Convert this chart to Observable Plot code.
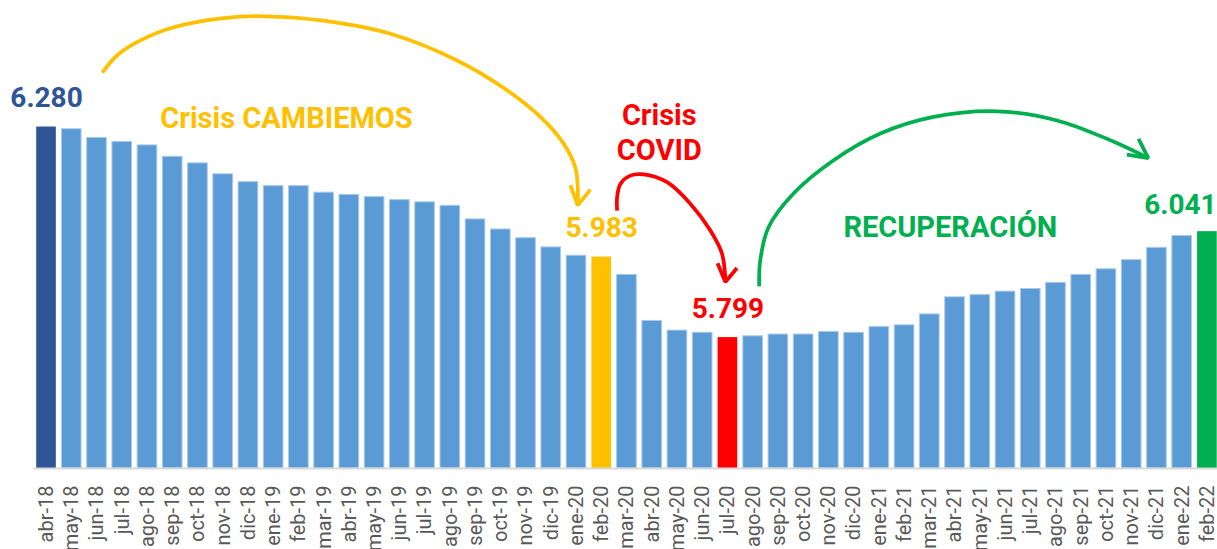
<!DOCTYPE html>
<html>
<head>
<meta charset="utf-8">
<script src="https://cdn.jsdelivr.net/npm/d3@7"></script>
<script src="https://cdn.jsdelivr.net/npm/@observablehq/plot@0.6"></script>
<style>
  html, body { margin: 0; padding: 0; background: #ffffff; }
  #chart svg { display: block; }
</style>
</head>
<body>
<div id="chart"></div>
<script>
// Categories (months)
const months = [
  "abr-18","may-18","jun-18","jul-18","ago-18","sep-18","oct-18","nov-18","dic-18",
  "ene-19","feb-19","mar-19","abr-19","may-19","jun-19","jul-19","ago-19","sep-19","oct-19","nov-19","dic-19",
  "ene-20","feb-20","mar-20","abr-20","may-20","jun-20","jul-20","ago-20","sep-20","oct-20","nov-20","dic-20",
  "ene-21","feb-21","mar-21","abr-21","may-21","jun-21","jul-21","ago-21","sep-21","oct-21","nov-21","dic-21",
  "ene-22","feb-22"
];
// Series values (thousands)
const values = [
  6280, 6275, 6255, 6246, 6238, 6212, 6197, 6172, 6154,
  6145, 6145, 6130, 6125, 6120, 6113, 6108, 6100, 6069, 6046, 6026, 6005,
  5986, 5983, 5942, 5837, 5815, 5810, 5799, 5802, 5806, 5806, 5812, 5810,
  5823, 5827, 5852, 5891, 5896, 5904, 5910, 5924, 5942, 5955, 5976, 6004,
  6031, 6041
];
// Months carrying a value label
const labelledMonths = ["abr-18", "feb-20", "jul-20", "feb-22"];

// Annotation texts, anchored in data units [month index, value]
const notes = [
  {text: "Crisis CAMBIEMOS", i: 9.51, v: 6277, color: "#ffc000"},
  {text: "Crisis\nCOVID", i: 24.28, v: 6204, color: "#ff0000"},
  {text: "RECUPERACIÓN", i: 35.81, v: 6028, color: "#00b050"}
];

// Annotation arrow paths in data units [month index, value]
const arcCambiemos = [
  [2.21, 6404], [2.80, 6444], [3.72, 6478], [5.04, 6508], [7.02, 6529], [8.61, 6533],
  [10.98, 6523], [13.63, 6493], [16.27, 6432], [18.25, 6364], [19.57, 6303],
  [20.49, 6242], [20.95, 6188], [21.05, 6143], [21.05, 6101]
];
const headCambiemos = [[20.76, 6147], [21.05, 6101], [21.55, 6137]];

const arcCovid = [
  [22.61, 6089], [22.61, 6120], [22.74, 6150], [23.13, 6169], [23.66, 6172],
  [24.59, 6154], [25.51, 6105], [26.30, 6044], [26.77, 5990], [26.90, 5926]
];
const headCovid = [[26.59, 5969], [26.90, 5926], [27.36, 5958]];

const arcRecuperacion = [
  [28.24, 5916], [28.28, 5975], [28.61, 6051], [29.60, 6128], [31.19, 6204],
  [33.04, 6265], [35.15, 6303], [37.66, 6316], [40.04, 6295], [42.02, 6253], [43.66, 6209]
];
const headRecuperacion = [[42.81, 6217], [43.66, 6209], [43.27, 6253]];

const data = months.map((m, i) => ({m, i, v: values[i]}));

const fmt = d3.formatLocale({decimal: ",", thousands: ".", grouping: [3], currency: ["$", ""]}).format(",");

const barColor = (m) =>
  m === "abr-18" ? "#2f5597" :
  m === "feb-20" ? "#ffc000" :
  m === "jul-20" ? "#ff0000" :
  m === "feb-22" ? "#00b050" : "#5b9bd5";

const labelColor = (m) =>
  m === "abr-18" ? "#2f5597" :
  m === "feb-20" ? "#ffc000" :
  m === "jul-20" ? "#ff0000" : "#00b050";

const pathLine = (pts, color) => Plot.line(pts, {
  x: d => d[0], y: d => d[1], curve: "catmull-rom",
  stroke: color, strokeWidth: 3.75, strokeLinecap: "butt"
});
const headLine = (pts, color) => Plot.line(pts, {
  x: d => d[0], y: d => d[1], curve: "linear",
  stroke: color, strokeWidth: 3.75, strokeLinecap: "butt", strokeLinejoin: "miter"
});

const chart = Plot.plot({
  width: 1217,
  height: 549,
  marginTop: 0,
  marginBottom: 81,
  marginLeft: 33.4,
  marginRight: 0,
  style: {fontFamily: "Roboto, 'Liberation Sans', Arial, sans-serif", fontSize: "20px", background: "#ffffff"},
  x: {type: "linear", domain: [-0.5, 46.4], axis: null},
  y: {domain: [5500, 6569], axis: null},
  marks: [
    Plot.rectY(data, {
      x1: d => d.i - 0.5, x2: d => d.i + 0.5,
      y1: () => 5500, y2: "v",
      insetLeft: 2.8, insetRight: 2.8,
      fill: d => barColor(d.m),
      stroke: d => barColor(d.m) === "#5b9bd5" ? "#a9c9ec" : "none",
      strokeWidth: 1
    }),
    Plot.ruleY([5500], {stroke: "#d9d9d9", strokeWidth: 2}),
    Plot.axisX({
      ticks: d3.range(months.length),
      tickFormat: i => months[i],
      tickRotate: -90,
      tickSize: 0,
      tickPadding: 17,
      fill: "#595959",
      fontSize: 20,
      label: null
    }),
    // value labels
    Plot.text(data.filter(d => labelledMonths.includes(d.m) && d.m !== "feb-22"), {
      x: "i", y: "v", text: d => fmt(d.v), dy: -20, lineAnchor: "bottom",
      fill: d => labelColor(d.m), fontSize: 28, fontWeight: "bold"
    }),
    Plot.text(data.filter(d => d.m === "feb-22"), {
      x: "i", y: "v", text: d => fmt(d.v), dy: -18, dx: -27, lineAnchor: "bottom",
      fill: d => labelColor(d.m), fontSize: 28, fontWeight: "bold"
    }),
    // annotation texts
    Plot.text(notes, {
      x: "i", y: "v", text: "text", lineAnchor: "bottom", lineHeight: 1.2,
      fill: "color", fontSize: 29, fontWeight: "bold"
    }),
    // arrows
    pathLine(arcCambiemos, "#ffc000"),
    headLine(headCambiemos, "#ffc000"),
    pathLine(arcCovid, "#ff0000"),
    headLine(headCovid, "#ff0000"),
    pathLine(arcRecuperacion, "#00b050"),
    headLine(headRecuperacion, "#00b050")
  ]
});

document.getElementById("chart").appendChild(chart);
</script>
</body>
</html>
